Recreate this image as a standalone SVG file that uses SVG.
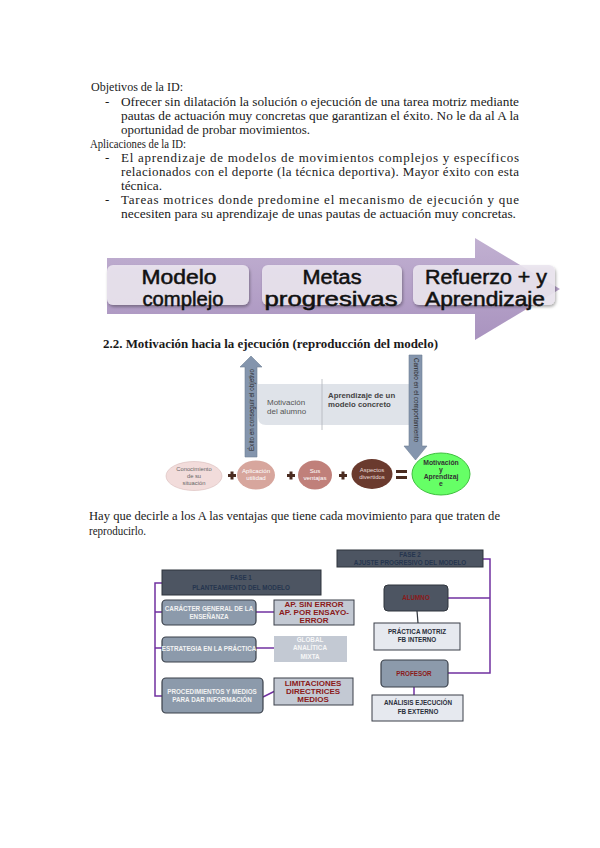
<svg xmlns="http://www.w3.org/2000/svg" width="600" height="848" viewBox="0 0 600 848">
<defs>
<style>
.body{font-family:"Liberation Serif",serif;font-size:13px;fill:#1a1a1a}
.ban{font-family:"Liberation Sans",Arial,sans-serif;font-size:19.5px;fill:#111;stroke:#111;stroke-width:0.5;text-anchor:middle}
.sm{font-family:"Liberation Sans",Arial,sans-serif;text-anchor:middle}
.pl{stroke:#7030a0;stroke-width:1.5;fill:none}
.dk{fill:#4d5562;stroke:#2f343c;stroke-width:1}
.bg{fill:#8c9aab;stroke:#3a404a;stroke-width:1.2}
.lt{fill:#c3c9d3;stroke:#3a3f48;stroke-width:1}
.wh{fill:#e6e9ef;stroke:#3a3f48;stroke-width:1}
.t6{font-family:"Liberation Sans",Arial,sans-serif;font-size:6.3px;font-weight:bold;text-anchor:middle}
.t8r{font-family:"Liberation Sans",Arial,sans-serif;font-size:8px;font-weight:bold;fill:#8b1a1a;text-anchor:middle}
</style>
<linearGradient id="ag" x1="0" y1="0" x2="0" y2="1">
<stop offset="0" stop-color="#c1b0d1"/><stop offset="1" stop-color="#a993bf"/>
</linearGradient>
<filter id="sh" x="-10%" y="-10%" width="130%" height="140%">
<feDropShadow dx="1" dy="2" stdDeviation="1.5" flood-color="#000" flood-opacity="0.35"/>
</filter>
</defs>
<rect width="600" height="848" fill="#fff"/>

<g id="text-top">
<text class="body" x="91" y="91" textLength="92" lengthAdjust="spacingAndGlyphs">Objetivos de la ID:</text>
<text class="body" x="105" y="106">-</text>
<text class="body" x="121" y="106" textLength="398" lengthAdjust="spacingAndGlyphs">Ofrecer sin dilatación la solución o ejecución de una tarea motriz mediante</text>
<text class="body" x="121" y="120" textLength="398" lengthAdjust="spacingAndGlyphs">pautas de actuación muy concretas que garantizan el éxito. No le da al A la</text>
<text class="body" x="121" y="134" textLength="189" lengthAdjust="spacingAndGlyphs">oportunidad de probar movimientos.</text>
<text class="body" x="90" y="148" textLength="96" lengthAdjust="spacingAndGlyphs">Aplicaciones de la ID:</text>
<text class="body" x="105" y="162">-</text>
<text class="body" x="121" y="162" textLength="398" lengthAdjust="spacing">El aprendizaje de modelos de movimientos complejos y específicos</text>
<text class="body" x="121" y="176" textLength="398" lengthAdjust="spacing">relacionados con el deporte (la técnica deportiva). Mayor éxito con esta</text>
<text class="body" x="121" y="190" textLength="41" lengthAdjust="spacingAndGlyphs">técnica.</text>
<text class="body" x="105" y="204">-</text>
<text class="body" x="121" y="204" textLength="398" lengthAdjust="spacing">Tareas motrices donde predomine el mecanismo de ejecución y que</text>
<text class="body" x="121" y="218" textLength="395" lengthAdjust="spacingAndGlyphs">necesiten para su aprendizaje de unas pautas de actuación muy concretas.</text>
</g>

<g id="banner">
<path d="M107,258 H475 V238 L560,289 L475,340 V314 H107 Z" fill="url(#ag)"/>
<g id="b1"><rect x="107" y="265" width="142" height="40" rx="6" fill="#ebe5f0" fill-opacity="0.9" filter="url(#sh)"/>
<text class="ban" x="179" y="283.5" textLength="75" lengthAdjust="spacingAndGlyphs">Modelo</text>
<text class="ban" x="183" y="306" textLength="81" lengthAdjust="spacingAndGlyphs">complejo</text></g>
<g id="b2"><rect x="262" y="265" width="140" height="40" rx="6" fill="#ebe5f0" fill-opacity="0.9" filter="url(#sh)"/>
<text class="ban" x="332" y="283.5" textLength="59" lengthAdjust="spacingAndGlyphs">Metas</text>
<text class="ban" x="331" y="306" textLength="133" lengthAdjust="spacingAndGlyphs">progresivas</text></g>
<g id="b3"><rect x="413" y="265" width="142" height="40" rx="6" fill="#ebe5f0" fill-opacity="0.9" filter="url(#sh)"/>
<text class="ban" x="486" y="283.5" textLength="122" lengthAdjust="spacingAndGlyphs">Refuerzo + y</text>
<text class="ban" x="485" y="306" textLength="120" lengthAdjust="spacingAndGlyphs">Aprendizaje</text></g>
</g>

<text x="103" y="348" font-family="'Liberation Serif',serif" font-size="13.5" font-weight="bold" fill="#1a1a1a" textLength="335" lengthAdjust="spacingAndGlyphs">2.2. Motivación hacia la ejecución (reproducción del modelo)</text>

<g id="motivacion">
<path d="M258,384 H416 V425 H266 Q258,425 258,417 Z" fill="#dfe3e9"/>
<line x1="322" y1="379" x2="322" y2="430" stroke="#b0b4ba" stroke-width="0.8"/>
<text x="267" y="405" font-family="'Liberation Sans',sans-serif" font-size="8" fill="#555">Motivación</text>
<text x="267" y="414" font-family="'Liberation Sans',sans-serif" font-size="8" fill="#555">del alumno</text>
<text x="328" y="398" font-family="'Liberation Sans',sans-serif" font-size="7.8" font-weight="bold" fill="#444">Aprendizaje de un</text>
<text x="328" y="407" font-family="'Liberation Sans',sans-serif" font-size="7.8" font-weight="bold" fill="#444">modelo concreto</text>
</g>

<g id="arrow-up">
<path d="M245,457 V367 H240 L251,356 L262,367 H257 V457 Z" fill="#8495ad" stroke="#6f7f96" stroke-width="0.6"/>
<text transform="translate(253.5,410) rotate(-90)" class="sm" font-size="6.3" fill="#2a2a2a">Éxito en conseguir el objetivo</text>
</g>
<g id="arrow-down">
<path d="M409,355 V446 H404 L415.5,460 L427,446 H422 V355 Z" fill="#8495ad" stroke="#6f7f96" stroke-width="0.6"/>
<text transform="translate(413.5,400) rotate(90)" class="sm" font-size="6.3" fill="#2a2a2a">Cambio en el comportamiento</text>
</g>

<g id="e1"><ellipse cx="194" cy="476" rx="28" ry="14.5" fill="#f2dcdb" stroke="#d8bcbb" stroke-width="0.6"/>
<text class="sm" font-size="5.8" fill="#666"><tspan x="194" y="471">Conocimiento</tspan><tspan x="194" y="478">de su</tspan><tspan x="194" y="485">situación</tspan></text></g>
<g id="e2"><ellipse cx="256" cy="475" rx="19" ry="14.5" fill="#d7a69d"/>
<text class="sm" font-size="6.2" fill="#fff"><tspan x="256" y="473">Aplicación</tspan><tspan x="256" y="480">utilidad</tspan></text></g>
<g id="e3"><ellipse cx="315" cy="475" rx="17" ry="14.5" fill="#c0807a"/>
<text class="sm" font-size="6.2" fill="#fff"><tspan x="315" y="473">Sus</tspan><tspan x="315" y="480">ventajas</tspan></text></g>
<g id="e4"><ellipse cx="372" cy="474" rx="20.5" ry="15" fill="#6a3a2e"/>
<text class="sm" font-size="6" fill="#e8dcd8"><tspan x="372" y="472">Aspectos</tspan><tspan x="372" y="479">divertidos</tspan></text></g>
<g id="e5"><ellipse cx="441" cy="474" rx="29" ry="21" fill="#66ff66" stroke="#3fbf3f" stroke-width="1"/>
<text class="sm" font-size="6.8" font-weight="bold" fill="#333"><tspan x="441" y="465">Motivación</tspan><tspan x="441" y="472">y</tspan><tspan x="441" y="479">Aprendizaj</tspan><tspan x="441" y="486">e</tspan></text></g>
<g id="ops" fill="#4a2b20">
<path d="M228,474 h8 v3 h-8 z M230.5,471.5 h3 v8 h-3 z"/>
<path d="M287,474 h8 v3 h-8 z M289.5,471.5 h3 v8 h-3 z"/>
<path d="M339,474 h8 v3 h-8 z M341.5,471.5 h3 v8 h-3 z"/>
<path d="M396,470 h11 v3 h-11 z M396,476 h11 v3 h-11 z"/>
</g>

<g id="text-mid">
<text class="body" x="89" y="520" textLength="411" lengthAdjust="spacingAndGlyphs">Hay que decirle a los A las ventajas que tiene cada movimiento para que traten de</text>
<text class="body" x="89" y="535" textLength="57" lengthAdjust="spacingAndGlyphs">reproducirlo.</text>
</g>

<g id="connectors">
<path class="pl" d="M162,583 H155 V696 H162"/>
<path class="pl" d="M155,612 H162 M155,648 H162"/>
<path class="pl" d="M256,612 H274"/>
<path class="pl" d="M256,648 H274"/>
<path class="pl" d="M263,697 L275,691"/>
<path class="pl" d="M483,559 H490 V673 H448"/>
<path class="pl" d="M448,598 H490"/>
<path d="M417,611 L418,623" stroke="#2f343c" stroke-width="1.2"/>
<path class="pl" d="M414,687 V695"/>
</g>

<g id="fase1"><rect class="dk" x="162" y="570" width="159" height="25"/>
<text class="t6" fill="#26354f"><tspan x="241" y="580">FASE 1</tspan><tspan x="241" y="590">PLANTEAMIENTO DEL MODELO</tspan></text></g>
<g id="caracter"><rect class="bg" x="162" y="600" width="94" height="25" rx="4"/>
<text class="t6" fill="#f2f2f2" font-size="5.8"><tspan x="209" y="611">CARÁCTER GENERAL DE LA</tspan><tspan x="209" y="619">ENSEÑANZA</tspan></text></g>
<g id="ap"><rect class="lt" x="274" y="600" width="80" height="25"/>
<text class="t8r"><tspan x="314" y="607">AP. SIN ERROR</tspan><tspan x="314" y="615">AP. POR ENSAYO-</tspan><tspan x="314" y="623">ERROR</tspan></text></g>
<g id="estrategia"><rect class="bg" x="162" y="637" width="94" height="25" rx="4"/>
<text class="t6" fill="#f2f2f2" font-size="5.8" x="209" y="651">ESTRATEGIA EN LA PRÁCTICA</text></g>
<g id="global"><rect x="274" y="636" width="73" height="26" fill="#c3c9d3"/>
<text class="t6" fill="#f7f7f7" font-size="5.6"><tspan x="310" y="642">GLOBAL</tspan><tspan x="310" y="650">ANALÍTICA</tspan><tspan x="310" y="659">MIXTA</tspan></text></g>
<g id="procedimientos"><rect class="bg" x="162" y="678" width="101" height="35" rx="4"/>
<text class="t6" fill="#f2f2f2" font-size="5.8"><tspan x="212" y="694">PROCEDIMIENTOS Y MEDIOS</tspan><tspan x="212" y="702">PARA DAR INFORMACIÓN</tspan></text></g>
<g id="limitaciones"><rect class="lt" x="274" y="678" width="79" height="27"/>
<text class="t8r"><tspan x="313" y="686">LIMITACIONES</tspan><tspan x="313" y="694">DIRECTRICES</tspan><tspan x="313" y="702">MEDIOS</tspan></text></g>

<g id="fase2"><rect class="dk" x="337" y="550" width="146" height="17"/>
<text class="t6" fill="#26354f"><tspan x="410" y="557">FASE 2</tspan><tspan x="410" y="565">AJUSTE PROGRESIVO DEL MODELO</tspan></text></g>
<g id="alumno"><rect class="dk" x="384" y="585" width="64" height="26" rx="4"/>
<text class="t6" fill="#8b1a1a" font-size="7" x="416" y="600">ALUMNO</text></g>
<g id="practica"><rect class="wh" x="374" y="623" width="86" height="27"/>
<text class="t6" fill="#2a2f3a" font-size="6"><tspan x="417" y="634">PRÁCTICA MOTRIZ</tspan><tspan x="417" y="642">FB INTERNO</tspan></text></g>
<g id="profesor"><rect class="bg" x="381" y="660" width="67" height="27" rx="4"/>
<text class="t6" fill="#8b1a1a" font-size="7" x="414" y="676">PROFESOR</text></g>
<g id="analisis"><rect class="wh" x="372" y="695" width="91" height="26"/>
<text class="t6" fill="#2a2f3a" font-size="6"><tspan x="418" y="705">ANÁLISIS EJECUCIÓN</tspan><tspan x="418" y="714">FB EXTERNO</tspan></text></g>
</svg>
